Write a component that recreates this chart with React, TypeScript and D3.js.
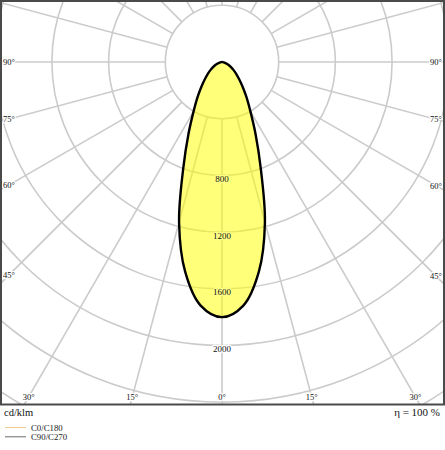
import { useMemo } from "react";
import * as d3 from "d3";

// Luminous intensity (cd/klm) by gamma angle, symmetric in C0/C180 and C90/C270
const gammaAngles = [0, 5, 10, 15, 20, 25, 30, 35, 40, 45, 50, 55, 60, 65, 70, 75, 80, 85, 90];
const intensityC0 = [1800, 1725, 1500, 1170, 800, 560, 400, 300, 225, 170, 132, 100, 75, 54, 36, 22, 12, 5, 0];
const intensityC90 = [1800, 1725, 1500, 1170, 800, 560, 400, 300, 225, 170, 132, 100, 75, 54, 36, 22, 12, 5, 0];

const ringValues = [400, 800, 1200, 1600, 2000, 2400, 2800, 3200];
const ringLabels = [800, 1200, 1600, 2000];
const spokeAngles = d3.range(0, 360, 15);
const degreeLabels = [0, 15, 30, 45, 60, 75, 90];

const legendItems = [
  { label: "C0/C180", color: "#f2c98a" },
  { label: "C90/C270", color: "#6b6b6b" },
];

const W = 445;
const H = 450;
const FONT = "'Liberation Serif', 'Times New Roman', serif";

export default function App() {
  const frame = { x0: 1, y0: 1, x1: 444, y1: 404.5 };
  const cx = 222;
  const cy = 62;

  const r = useMemo(() => d3.scaleLinear().domain([0, 2000]).range([0, 283.5]), []);

  // full closed outline: right half C0, left half mirrored
  const outline = useMemo(() => {
    const right = gammaAngles.map((g, i) => ({ g, v: intensityC0[i] }));
    const left = gammaAngles.map((g, i) => ({ g: -g, v: intensityC90[i] })).reverse();
    const pts = [...left.slice(0, -1), ...right];
    return d3
      .lineRadial<{ g: number; v: number }>()
      .angle((d) => Math.PI - (d.g * Math.PI) / 180)
      .radius((d) => r(d.v))
      .curve(d3.curveCatmullRomClosed.alpha(0.5))(pts) as string;
  }, [r]);

  // label positions where spokes meet an inset box
  const inset = { x0: 9, x1: 436, y1: 397 };
  const degPos = (g: number, side: number) => {
    const a = (g * Math.PI) / 180;
    const dx = Math.sin(a) * side;
    const dy = Math.cos(a);
    let t = Infinity;
    if (dx > 1e-6) t = Math.min(t, (inset.x1 - cx) / dx);
    if (dx < -1e-6) t = Math.min(t, (inset.x0 - cx) / dx);
    if (dy > 1e-6) t = Math.min(t, (inset.y1 - cy) / dy);
    return { x: cx + dx * t, y: cy + dy * t };
  };

  const maxI = d3.max(intensityC0)!;

  return (
    <svg
      width={W}
      height={H}
      style={{ position: "absolute", left: 0, top: 0, background: "#fff" }}
      fontFamily={FONT}
    >
      <defs>
        <clipPath id="frameClip">
          <rect x={frame.x0} y={frame.y0} width={frame.x1 - frame.x0} height={frame.y1 - frame.y0} />
        </clipPath>
      </defs>

      <g clipPath="url(#frameClip)">
        {/* Grid */}
        <g transform={`translate(${cx},${cy})`} stroke="#cbcbcb" strokeWidth={1.6} fill="none">
          {ringValues.map((v) => (
            <circle key={v} r={r(v)} />
          ))}
          {spokeAngles.map((a) => {
            const rad = (a * Math.PI) / 180;
            return (
              <line
                key={a}
                x1={Math.sin(rad) * r(400)}
                y1={Math.cos(rad) * r(400)}
                x2={Math.sin(rad) * 700}
                y2={Math.cos(rad) * 700}
              />
            );
          })}
        </g>

        {/* Light distribution curve */}
        <g transform={`translate(${cx},${cy})`}>
          <path d={outline} fill="#ffff00" fillOpacity={0.52} stroke="none" />
        </g>

        {/* Ring labels */}
        {ringLabels.map((v) => (
          <text
            key={v}
            x={cx}
            y={cy + r(v) + 3.5}
            textAnchor="middle"
            dominantBaseline="central"
            fontSize={9}
            fill="#111"
            stroke={v < maxI ? "#ffff85" : "#fff"}
            strokeWidth={2.5}
            paintOrder="stroke"
          >
            {v}
          </text>
        ))}

        <g transform={`translate(${cx},${cy})`}>
          <path d={outline} fill="none" stroke="#000" strokeWidth={2.4} strokeLinejoin="round" />
        </g>

        {/* Degree labels */}
        {degreeLabels.flatMap((g) =>
          (g === 0 ? [1] : [-1, 1]).map((side) => {
            const p = degPos(g, side);
            return (
              <text
                key={`${g}-${side}`}
                x={p.x}
                y={p.y}
                textAnchor="middle"
                dominantBaseline="central"
                fontSize={8.5}
                fill="#111"
                stroke="#fff"
                strokeWidth={2.5}
                paintOrder="stroke"
              >
                {`${g}°`}
              </text>
            );
          })
        )}
      </g>

      {/* Frame */}
      <rect
        x={frame.x0}
        y={frame.y0}
        width={frame.x1 - frame.x0}
        height={frame.y1 - frame.y0}
        fill="none"
        stroke="#4a4a4a"
        strokeWidth={2}
      />

      <text x={4} y={416} fontSize={10.5} fill="#111">
        cd/klm
      </text>
      <text x={440} y={416} fontSize={11} fill="#111" textAnchor="end">
        η = 100 %
      </text>

      {/* Legend */}
      {legendItems.map((d, i) => (
        <g key={d.label} transform={`translate(0,${427.5 + i * 9.3})`}>
          <line x1={5} x2={26} y1={0} y2={0} stroke={d.color} strokeWidth={1} />
          <text x={31} y={3.5} fontSize={8.8} fill="#222">
            {d.label}
          </text>
        </g>
      ))}
    </svg>
  );
}
